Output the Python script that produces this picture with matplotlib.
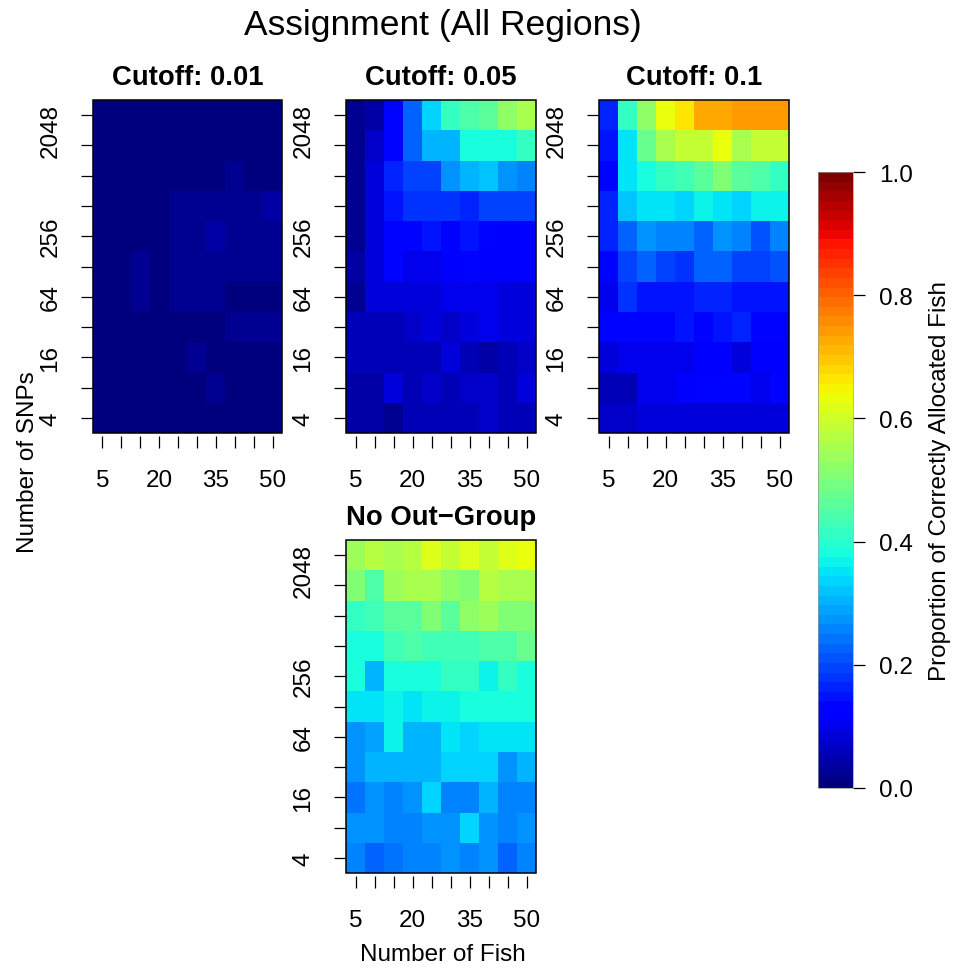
import numpy as np
import matplotlib as mpl
import matplotlib.pyplot as plt
from matplotlib.colors import Normalize
from matplotlib.patches import Rectangle

plt.rcParams['font.family'] = ['Liberation Sans', 'DejaVu Sans']

# grid axes
fish = [5, 10, 15, 20, 25, 30, 35, 40, 45, 50]
snps = [4, 8, 16, 32, 64, 128, 256, 512, 1024, 2048, 4096]
fish_shown = [5, 20, 35, 50]
snps_shown = [4, 16, 64, 256, 2048]

# proportion correctly allocated, rows ordered by snps (4 -> 4096), columns by fish
cut_001 = [
    [0.01, 0.01, 0.01, 0.01, 0.01, 0.01, 0.01, 0.01, 0.01, 0.01],
    [0.01, 0.01, 0.01, 0.01, 0.01, 0.01, 0.025, 0.01, 0.01, 0.01],
    [0.01, 0.01, 0.01, 0.01, 0.01, 0.025, 0.015, 0.015, 0.015, 0.015],
    [0.01, 0.01, 0.01, 0.01, 0.01, 0.01, 0.01, 0.02, 0.02, 0.02],
    [0.01, 0.01, 0.025, 0.015, 0.02, 0.02, 0.02, 0.015, 0.01, 0.01],
    [0.01, 0.01, 0.025, 0.005, 0.02, 0.02, 0.02, 0.02, 0.02, 0.02],
    [0.01, 0.01, 0.01, 0.01, 0.02, 0.02, 0.035, 0.02, 0.02, 0.02],
    [0.01, 0.01, 0.01, 0.01, 0.02, 0.02, 0.02, 0.03, 0.02, 0.035],
    [0.01, 0.01, 0.01, 0.01, 0.01, 0.01, 0.01, 0.02, 0.01, 0.01],
    [0.01, 0.01, 0.01, 0.01, 0.01, 0.01, 0.01, 0.01, 0.01, 0.01],
    [0.01, 0.01, 0.01, 0.01, 0.01, 0.01, 0.01, 0.01, 0.01, 0.01],
]
cut_005 = [
    [0.04, 0.04, 0.03, 0.05, 0.05, 0.05, 0.05, 0.07, 0.06, 0.06],
    [0.04, 0.04, 0.08, 0.06, 0.07, 0.05, 0.07, 0.07, 0.06, 0.08],
    [0.05, 0.05, 0.06, 0.05, 0.05, 0.08, 0.06, 0.04, 0.06, 0.07],
    [0.05, 0.05, 0.06, 0.07, 0.09, 0.07, 0.09, 0.10, 0.08, 0.08],
    [0.03, 0.09, 0.09, 0.09, 0.09, 0.10, 0.10, 0.10, 0.08, 0.09],
    [0.04, 0.09, 0.13, 0.10, 0.10, 0.12, 0.125, 0.12, 0.12, 0.125],
    [0.03, 0.09, 0.14, 0.14, 0.15, 0.12, 0.15, 0.13, 0.12, 0.14],
    [0.02, 0.09, 0.15, 0.18, 0.18, 0.18, 0.17, 0.19, 0.19, 0.19],
    [0.02, 0.08, 0.16, 0.20, 0.20, 0.27, 0.31, 0.32, 0.27, 0.25],
    [0.02, 0.07, 0.14, 0.22, 0.31, 0.31, 0.375, 0.375, 0.375, 0.42],
    [0.02, 0.04, 0.13, 0.22, 0.33, 0.42, 0.45, 0.46, 0.53, 0.55],
]
cut_01 = [
    [0.07, 0.07, 0.08, 0.09, 0.09, 0.08, 0.09, 0.09, 0.09, 0.09],
    [0.06, 0.06, 0.10, 0.10, 0.12, 0.125, 0.125, 0.125, 0.10, 0.125],
    [0.08, 0.10, 0.10, 0.10, 0.10, 0.12, 0.12, 0.09, 0.11, 0.11],
    [0.14, 0.14, 0.14, 0.13, 0.15, 0.13, 0.15, 0.17, 0.14, 0.14],
    [0.10, 0.18, 0.15, 0.15, 0.15, 0.16, 0.16, 0.15, 0.15, 0.15],
    [0.125, 0.20, 0.22, 0.20, 0.18, 0.22, 0.23, 0.19, 0.19, 0.21],
    [0.16, 0.23, 0.27, 0.25, 0.26, 0.22, 0.27, 0.26, 0.21, 0.25],
    [0.16, 0.32, 0.35, 0.35, 0.33, 0.36, 0.35, 0.34, 0.36, 0.36],
    [0.125, 0.35, 0.385, 0.42, 0.43, 0.46, 0.50, 0.46, 0.45, 0.42],
    [0.15, 0.35, 0.48, 0.55, 0.59, 0.58, 0.625, 0.555, 0.59, 0.59],
    [0.16, 0.41, 0.53, 0.64, 0.67, 0.72, 0.72, 0.735, 0.735, 0.735],
]
no_outgroup = [
    [0.26, 0.22, 0.24, 0.26, 0.26, 0.28, 0.26, 0.28, 0.22, 0.26],
    [0.28, 0.28, 0.26, 0.26, 0.28, 0.28, 0.34, 0.28, 0.26, 0.28],
    [0.24, 0.27, 0.25, 0.28, 0.34, 0.26, 0.25, 0.30, 0.26, 0.26],
    [0.27, 0.30, 0.30, 0.30, 0.30, 0.34, 0.34, 0.34, 0.28, 0.30],
    [0.27, 0.29, 0.36, 0.30, 0.30, 0.35, 0.34, 0.35, 0.35, 0.35],
    [0.35, 0.35, 0.36, 0.35, 0.37, 0.36, 0.375, 0.375, 0.375, 0.39],
    [0.39, 0.31, 0.375, 0.375, 0.39, 0.42, 0.42, 0.36, 0.41, 0.39],
    [0.375, 0.38, 0.43, 0.44, 0.43, 0.43, 0.43, 0.45, 0.45, 0.48],
    [0.42, 0.43, 0.455, 0.455, 0.50, 0.46, 0.53, 0.54, 0.515, 0.515],
    [0.50, 0.45, 0.54, 0.555, 0.555, 0.53, 0.515, 0.57, 0.56, 0.55],
    [0.54, 0.57, 0.55, 0.57, 0.61, 0.58, 0.61, 0.59, 0.61, 0.625],
]

panels = [
    ("Cutoff: 0.01", cut_001, (93, 101, 282, 434)),
    ("Cutoff: 0.05", cut_005, (346, 101, 536, 434)),
    ("Cutoff: 0.1", cut_01, (599, 101, 789, 434)),
    ("No Out\u2212Group", no_outgroup, (346, 541, 536, 874)),
]

W, H = 961, 970
def rect(l, t, r, b):
    return [l / W, 1 - b / H, (r - l) / W, (b - t) / H]

cmap = plt.get_cmap('jet', 64)
norm = Normalize(0, 1)
fs = 17.5
tick_len = 8.6

# the y labels sit on the row index of each shown value; the top one
# is drawn half a row higher
ylab_pos = [snps.index(s) for s in snps_shown]
ylab_pos[-1] += 0.5

fig = plt.figure(figsize=(W / 100, H / 100), dpi=100)

for title, vals, box in panels:
    ax = fig.add_axes(rect(*box))
    ax.imshow(np.array(vals), cmap=cmap, norm=norm, origin='lower',
              aspect='auto', interpolation='nearest',
              extent=(-0.5, len(fish) - 0.5, -0.5, len(snps) - 0.5))
    ax.set_xticks(range(len(fish)))
    ax.set_xticklabels([str(f) if f in fish_shown else '' for f in fish])
    ax.yaxis.remove_overlapping_locs = False
    ax.set_yticks(range(len(snps)))
    ax.set_yticklabels([])
    ax.set_yticks(ylab_pos, minor=True)
    ax.set_yticklabels([str(s) for s in snps_shown], minor=True,
                       rotation=90, va='center')
    for s in ax.spines.values():
        s.set_visible(False)
    ax.spines['bottom'].set_position(('outward', 2.2))
    ax.add_patch(Rectangle((0, 0), 1, 1, transform=ax.transAxes, fill=False,
                           ec='black', lw=1.1, clip_on=False, zorder=5))
    ax.tick_params(axis='both', which='major', direction='out',
                   length=tick_len, width=0.9, labelsize=fs)
    ax.tick_params(axis='x', pad=15)
    ax.tick_params(axis='y', which='minor', length=0, labelsize=fs,
                   pad=tick_len + 14)
    l, t, r, b = box
    fig.text((l + r) / 2 / W, 1 - (t - 23) / H, title, fontsize=19.8,
             fontweight='bold', ha='center', va='center')

# colour legend
cax = fig.add_axes(rect(818, 173, 853, 789))
cb = fig.colorbar(mpl.cm.ScalarMappable(norm=norm, cmap=cmap), cax=cax)
cb.set_ticks([0, 0.2, 0.4, 0.6, 0.8, 1.0])
cb.set_ticklabels(['0.0', '0.2', '0.4', '0.6', '0.8', '1.0'])
cb.outline.set_linewidth(0.5)
cb.outline.set_edgecolor('#999999')
cax.tick_params(direction='out', length=tick_len, width=0.9, labelsize=fs,
                pad=10)
fig.text(940 / W, 1 - 481 / H, 'Proportion of Correctly Allocated Fish',
         fontsize=fs, rotation=90, ha='center', va='center')

fig.text(443 / W, 1 - 25 / H, 'Assignment (All Regions)', fontsize=25.5,
         ha='center', va='center')
fig.text(28 / W, 1 - 462 / H, 'Number of SNPs', fontsize=fs, rotation=90,
         ha='center', va='center')
fig.text(443 / W, 1 - 955 / H, 'Number of Fish', fontsize=fs,
         ha='center', va='center')

fig.savefig('out.png', dpi=100)
